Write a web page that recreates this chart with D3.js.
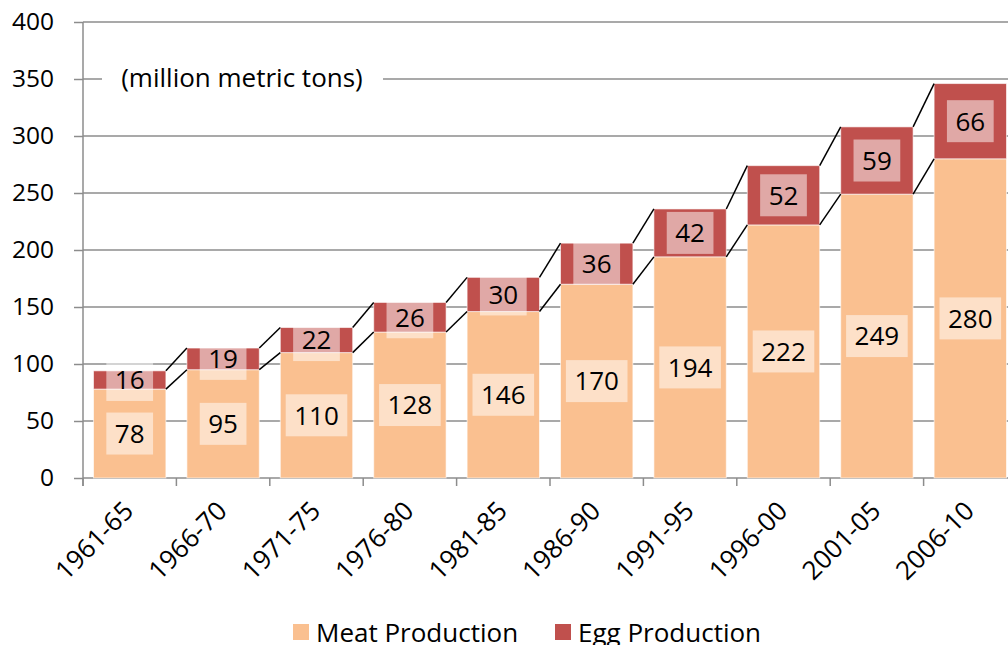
<!DOCTYPE html>
<html lang="en">
<head>
    <meta charset="UTF-8">
    <title>Meat and Egg Production</title>
    <script src="https://d3js.org/d3.v7.min.js"></script>
    <style>
        body { margin: 0; background: #fff; }
        text { font-family: "Open Sans", sans-serif; fill: #000; }
        .grid line { stroke: #8c8c8c; stroke-width: 1.5; }
        .axis path, .axis line { stroke: #8c8c8c; stroke-width: 1.5; }
    </style>
</head>
<body>
    <svg width="1008" height="645"></svg>
    <script>
        // values (million metric tons)
        var periods = ["1961-65", "1966-70", "1971-75", "1976-80", "1981-85",
                       "1986-90", "1991-95", "1996-00", "2001-05", "2006-10"];
        var meat = [78, 95, 110, 128, 146, 170, 194, 222, 249, 280];
        var eggs = [16, 19, 22, 26, 30, 36, 42, 52, 59, 66];
        var yTicks = [0, 50, 100, 150, 200, 250, 300, 350, 400];
        var seriesNames = ["Meat Production", "Egg Production"];
        var colors = ["#fac090", "#c0504d"];

        var svg = d3.select("svg");
        var plotLeft = 83, plotBottom = 478, plotTop = 22, step = 93.4;

        var x = d3.scaleBand()
            .domain(periods)
            .range([plotLeft, plotLeft + step * periods.length])
            .paddingInner(0.225)
            .paddingOuter(0.1125);
        var y = d3.scaleLinear().domain([0, 400]).range([plotBottom, plotTop]);

        // gridlines
        svg.append("g").attr("class", "grid")
            .selectAll("line").data(yTicks.slice(1)).enter().append("line")
            .attr("x1", plotLeft).attr("x2", 1008)
            .attr("y1", d => y(d)).attr("y2", d => y(d));

        // y axis
        var yAxis = svg.append("g").attr("class", "axis")
            .attr("transform", "translate(" + plotLeft + ",0)")
            .call(d3.axisLeft(y).tickValues(yTicks).tickSize(9).tickSizeOuter(0).tickPadding(20));
        yAxis.select(".domain").remove();
        yAxis.append("line").attr("x1", 0).attr("x2", 0).attr("y1", plotTop).attr("y2", plotBottom + 8);
        yAxis.selectAll("text").style("font-size", "24.5px").style("font-family", "Open Sans");

        // x axis
        var xAxis = svg.append("g").attr("class", "axis")
            .attr("transform", "translate(0," + plotBottom + ")");
        xAxis.append("line").attr("x1", plotLeft).attr("x2", 1008).attr("y1", 0).attr("y2", 0);
        xAxis.selectAll(".tk").data(d3.range(periods.length + 1)).enter().append("line")
            .attr("x1", i => plotLeft + i * step).attr("x2", i => plotLeft + i * step)
            .attr("y1", 0).attr("y2", 8);
        xAxis.selectAll(".lbl").data(periods).enter().append("text")
            .attr("text-anchor", "end")
            .attr("transform", d => "translate(" + (x(d) + x.bandwidth() / 2 - 1) + ",28) rotate(-45)")
            .attr("dy", "0.35em")
            .style("font-size", "26px")
            .text(d => d);

        // stacked bars
        var stackData = periods.map((p, i) => ({ period: p, meat: meat[i], eggs: eggs[i] }));
        var series = d3.stack().keys(["meat", "eggs"])(stackData);

        svg.selectAll(".layer").data(series).enter().append("g")
            .attr("fill", (d, i) => colors[i])
            .selectAll("rect").data(d => d).enter().append("rect")
            .attr("x", d => x(d.data.period))
            .attr("width", x.bandwidth())
            .attr("y", d => y(d[1]))
            .attr("height", d => y(d[0]) - y(d[1]))
            .attr("stroke", "rgba(255,255,255,0.6)")
            .attr("stroke-width", 1);

        // series lines between bars
        series.forEach(function (s) {
            for (var i = 0; i < s.length - 1; i++) {
                svg.append("line")
                    .attr("x1", x(periods[i]) + x.bandwidth()).attr("y1", y(s[i][1]))
                    .attr("x2", x(periods[i + 1])).attr("y2", y(s[i + 1][1]))
                    .attr("stroke", "#000").attr("stroke-width", 1.5);
            }
        });

        // data labels
        series.forEach(function (s) {
            s.forEach(function (d) {
                var cx = x(d.data.period) + x.bandwidth() / 2;
                var cy = (y(d[0]) + y(d[1])) / 2;
                var g = svg.append("g");
                var r = g.append("rect").attr("fill", "#fff").attr("fill-opacity", 0.5);
                var t = g.append("text")
                    .attr("x", cx).attr("y", cy).attr("dy", "0.36em")
                    .attr("text-anchor", "middle")
                    .style("font-size", "26px")
                    .text(d[1] - d[0]);
                var w = t.node().getComputedTextLength() + 17;
                r.attr("x", cx - w / 2).attr("y", cy - 21).attr("width", w).attr("height", 42);
            });
        });

        // unit note
        svg.append("rect").attr("x", 102).attr("y", 62).attr("width", 281).attr("height", 32).attr("fill", "#fff");
        svg.append("text").attr("x", 242).attr("y", 78).attr("dy", "0.35em")
            .attr("text-anchor", "middle").style("font-size", "26px")
            .text("(million metric tons)");

        // legend
        var legendX = [293, 555];
        var lg = svg.selectAll(".legend").data(seriesNames).enter().append("g")
            .attr("transform", (d, i) => "translate(" + legendX[i] + ",624)");
        lg.append("rect").attr("width", 16).attr("height", 16).attr("fill", (d, i) => colors[i]);
        lg.append("text").attr("x", 23).attr("y", 18).style("font-size", "26px").text(d => d);
    </script>
</body>
</html>
